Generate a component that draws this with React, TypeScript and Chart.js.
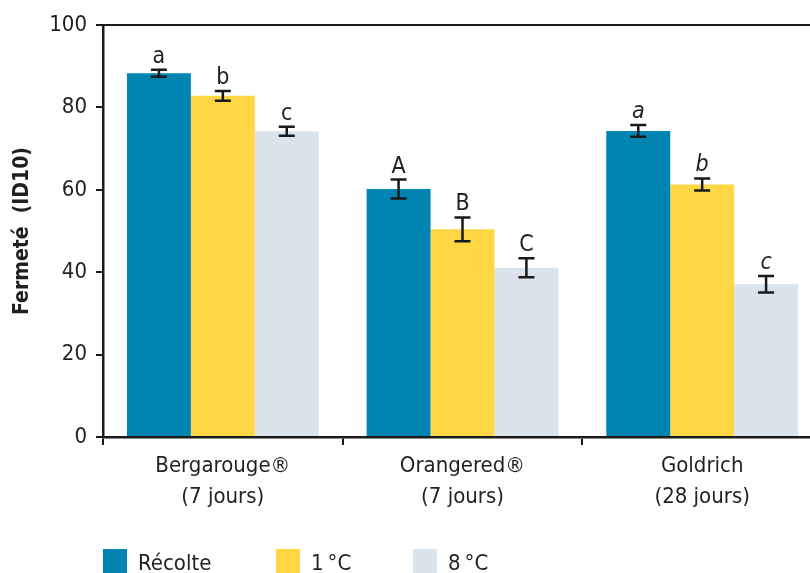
import React, { useEffect, useRef } from "react";
import { Chart, registerables } from "chart.js";

Chart.register(...registerables);

const categories: string[][] = [
  ["Bergarouge®", "(7 jours)"],
  ["Orangered®", "(7 jours)"],
  ["Goldrich", "(28 jours)"],
];
const seriesNames = ["Récolte", "1\u2009°C", "8\u2009°C"];
const recolte = [88.3, 60.2, 74.3];
const recolteErr = [0.85, 2.3, 1.45];
const froid1 = [82.8, 50.4, 61.3];
const froid1Err = [1.2, 2.9, 1.45];
const froid8 = [74.2, 41.1, 37.1];
const froid8Err = [1.1, 2.3, 2.0];
const recolteLetters = ["a", "A", "a"];
const froid1Letters = ["b", "B", "b"];
const froid8Letters = ["c", "C", "c"];
const letterItalic = [false, false, true];
const yTicks = [0, 20, 40, 60, 80, 100];

const colors = ["#0084B1", "#FFD644", "#DBE4EC"];
const FONT = "'Liberation Sans Narrow', 'DejaVu Sans Condensed', 'Liberation Sans', sans-serif";
const TEXT = "#231f20";
const AXIS = "#1a1a1a";

const errors = [recolteErr, froid1Err, froid8Err];
const letters = [recolteLetters, froid1Letters, froid8Letters];

const errorBarPlugin = {
  id: "errorBars",
  afterDatasetsDraw(chart: any) {
    const ctx = chart.ctx;
    const yScale = chart.scales.y;
    ctx.save();
    chart.data.datasets.forEach((ds: any, i: number) => {
      const meta = chart.getDatasetMeta(i);
      meta.data.forEach((el: any, j: number) => {
        const v = ds.data[j];
        const e = errors[i][j];
        const top = yScale.getPixelForValue(v + e);
        const bot = yScale.getPixelForValue(v - e);
        const x = el.x;
        const cap = 8;
        ctx.strokeStyle = AXIS;
        ctx.lineWidth = 2.5;
        ctx.beginPath();
        ctx.moveTo(x, top);
        ctx.lineTo(x, bot);
        ctx.moveTo(x - cap, top);
        ctx.lineTo(x + cap, top);
        ctx.moveTo(x - cap, bot);
        ctx.lineTo(x + cap, bot);
        ctx.stroke();
        ctx.fillStyle = TEXT;
        ctx.font = `${letterItalic[j] ? "italic " : ""}23px ${FONT}`;
        ctx.textAlign = "center";
        ctx.textBaseline = "alphabetic";
        ctx.fillText(letters[i][j], x, top - 7);
      });
    });
    const a = chart.chartArea;
    ctx.strokeStyle = AXIS;
    ctx.lineWidth = 2;
    ctx.beginPath();
    ctx.moveTo(a.left, a.top);
    ctx.lineTo(a.right, a.top);
    ctx.stroke();
    ctx.restore();
  },
};

export default function App() {
  const ref = useRef<HTMLCanvasElement | null>(null);
  useEffect(() => {
    if (!ref.current) return;
    const chart = new Chart(ref.current, {
      type: "bar",
      data: {
        labels: categories,
        datasets: [
          { label: seriesNames[0], data: recolte, backgroundColor: colors[0] },
          { label: seriesNames[1], data: froid1, backgroundColor: colors[1] },
          { label: seriesNames[2], data: froid8, backgroundColor: colors[2] },
        ],
      },
      options: {
        responsive: false,
        animation: false,
        events: [],
        layout: { padding: { top: 25, left: 0, right: 0, bottom: 0 } },
        datasets: { bar: { categoryPercentage: 0.8, barPercentage: 1.0 } },
        plugins: { legend: { display: false }, tooltip: { enabled: false } },
        scales: {
          x: {
            type: "category",
            afterFit: (s: any) => {
              s.height = 136;
            },
            grid: {
              display: true,
              offset: true,
              drawOnChartArea: false,
              drawTicks: true,
              tickLength: 8,
              color: AXIS,
              lineWidth: 2,
            },
            border: { display: true, color: AXIS, width: 2.5 },
            ticks: {
              color: TEXT,
              padding: 6,
              font: { family: FONT, size: 22, lineHeight: 1.4 },
              maxRotation: 0,
              autoSkip: false,
            },
          },
          y: {
            min: 0,
            max: 100,
            afterFit: (s: any) => {
              s.width = 103;
            },
            afterBuildTicks: (s: any) => {
              s.ticks = yTicks.map((v) => ({ value: v }));
            },
            grid: {
              display: true,
              drawOnChartArea: false,
              drawTicks: true,
              tickLength: 7,
              color: AXIS,
              lineWidth: 2,
            },
            border: { display: true, color: AXIS, width: 2.5 },
            ticks: {
              color: TEXT,
              padding: 9,
              font: { family: FONT, size: 22 },
            },
            title: {
              display: true,
              text: "Fermeté  (ID10)",
              color: TEXT,
              padding: { top: 10, bottom: 0 },
              font: { family: FONT, size: 21, weight: "bold" },
            },
          },
        },
      },
      plugins: [errorBarPlugin],
    });
    return () => chart.destroy();
  }, []);

  const legendX = [103, 276, 413];
  return (
    <div
      style={{
        position: "absolute",
        left: 0,
        top: 0,
        width: 810,
        height: 573,
        overflow: "hidden",
        background: "#fff",
      }}
    >
      <canvas ref={ref} width={822} height={573} style={{ display: "block" }} />
      {seriesNames.map((n, i) => (
        <div
          key={n}
          style={{
            position: "absolute",
            left: legendX[i],
            top: 549,
            display: "flex",
            alignItems: "flex-start",
            fontFamily: FONT,
            fontSize: 22,
            lineHeight: "24px",
            color: TEXT,
            whiteSpace: "nowrap",
          }}
        >
          <span style={{ width: 24, height: 26, background: colors[i], display: "inline-block", marginRight: 11 }} />
          <span style={{ marginTop: 2 }}>{n}</span>
        </div>
      ))}
    </div>
  );
}
